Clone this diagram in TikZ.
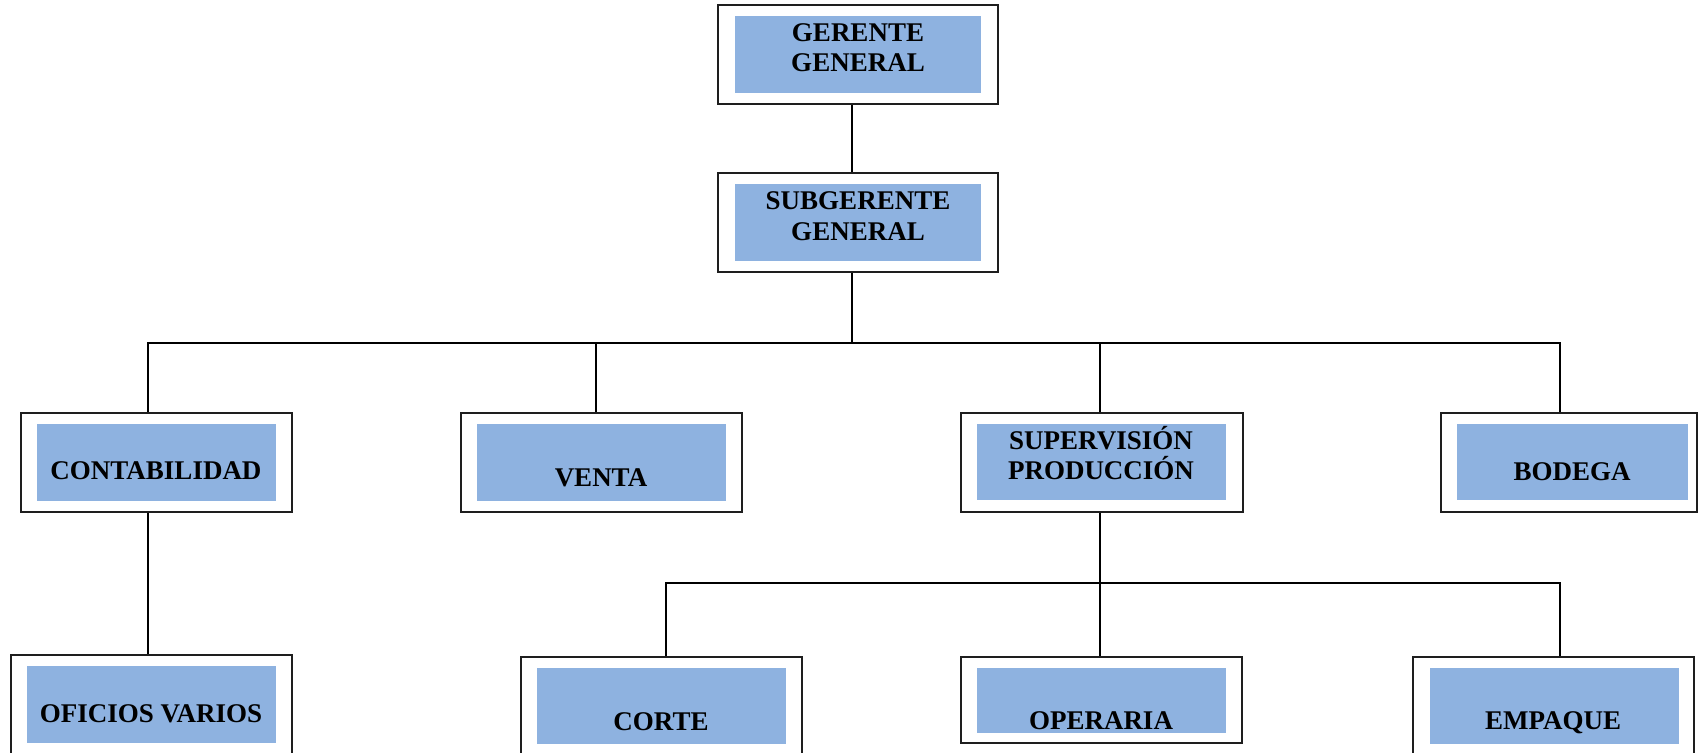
\documentclass[tikz,border=0pt]{standalone}
\usepackage{fontspec}
\setmainfont{Liberation Serif}
\definecolor{unitblue}{RGB}{142,178,224}
\definecolor{frame}{RGB}{30,30,30}
\tikzset{
  outerbox/.style={draw=frame, line width=0.7pt, fill=white, inner sep=0pt},
  bluebox/.style={fill=unitblue, inner sep=0pt},
  lbl/.style={font=\fontsize{13.5}{15.2}\selectfont\bfseries, align=center, inner sep=0pt},
  link/.style={line width=0.9pt, draw=black}
}
\begin{document}
\begin{tikzpicture}[x=0.5pt,y=-0.5pt]
\useasboundingbox (0,0) rectangle (1699,753);
\clip (0,0) rectangle (1699,753);

% top management
\node[outerbox, minimum width=140pt, minimum height=49.5pt] (ger) at (858,54.5) {};
\node[bluebox, minimum width=123pt, minimum height=38.5pt] (gerb) at (858,54.5) {};
\node[lbl] (gert) at (858,47.5) {GERENTE\\GENERAL};

\node[outerbox, minimum width=140pt, minimum height=49.5pt] (sub) at (858,222.5) {};
\node[bluebox, minimum width=123pt, minimum height=38.5pt] (subb) at (858,222.5) {};
\node[lbl] (subt) at (858,216) {SUBGERENTE\\GENERAL};

% departments
\node[outerbox, minimum width=135.5pt, minimum height=49.5pt] (cont) at (156.5,462.5) {};
\node[bluebox, minimum width=119.5pt, minimum height=38.5pt] (contb) at (156.5,463) {};
\node[lbl, anchor=base] (contt) at (156,480) {CONTABILIDAD};

\node[outerbox, minimum width=140.5pt, minimum height=49.5pt] (venta) at (601.5,462.5) {};
\node[bluebox, minimum width=124.5pt, minimum height=38.5pt] (ventab) at (601.5,462.5) {};
\node[lbl, anchor=base] (ventat) at (601,487) {VENTA};

\node[outerbox, minimum width=141pt, minimum height=49.5pt] (sup) at (1102,462.5) {};
\node[bluebox, minimum width=124.5pt, minimum height=38pt] (supb) at (1101.5,462) {};
\node[lbl] (supt) at (1101,453) {SUPERVISIÓN\\PRODUCCIÓN};

\node[outerbox, minimum width=128pt, minimum height=49.5pt] (bod) at (1569,462.5) {};
\node[bluebox, minimum width=115.5pt, minimum height=38pt] (bodb) at (1572.5,462) {};
\node[lbl, anchor=base] (bodt) at (1572,481) {BODEGA};

% sections
\node[outerbox, minimum width=140.5pt, minimum height=52.5pt] (ofi) at (151.5,707.5) {};
\node[bluebox, minimum width=124.5pt, minimum height=38.5pt] (ofib) at (151.5,704.5) {};
\node[lbl, anchor=base] (ofit) at (151,723) {OFICIOS VARIOS};

\node[outerbox, minimum width=140.5pt, minimum height=51.5pt] (corte) at (661.5,708.5) {};
\node[bluebox, minimum width=124.5pt, minimum height=38pt] (corteb) at (661.5,706) {};
\node[lbl, anchor=base] (cortet) at (661,730) {CORTE};

\node[outerbox, minimum width=140.5pt, minimum height=43pt] (oper) at (1101.5,700) {};
\node[bluebox, minimum width=124.5pt, minimum height=32.5pt] (operb) at (1101.5,700.5) {};
\node[lbl, anchor=base] (opert) at (1101,729) {OPERARIA};

\node[outerbox, minimum width=140.5pt, minimum height=51.5pt] (emp) at (1553.5,708.5) {};
\node[bluebox, minimum width=124.5pt, minimum height=38pt] (empb) at (1554.5,706) {};
\node[lbl, anchor=base] (empt) at (1553,729) {EMPAQUE};

% connectors
\coordinate (bus1) at (852,343);
\coordinate (bus2) at (1100,583);
\draw[link] ([shift={(-6,0)}]ger.south) -- ([shift={(-6,0)}]sub.north);
\draw[link] ([shift={(-6,0)}]sub.south) -- (bus1);
\draw[link] ([shift={(-8.5,0)}]cont.north) |- (bus1);
\draw[link] ([shift={(-5.5,0)}]venta.north) |- (bus1);
\draw[link] ([shift={(-2,0)}]sup.north) |- (bus1);
\draw[link] ([shift={(-9,0)}]bod.north) |- (bus1);
\draw[link] ([shift={(-8.5,0)}]cont.south) -- ([shift={(-3.5,0)}]ofi.north);
\draw[link] ([shift={(-2,0)}]sup.south) -- ([shift={(-1.5,0)}]oper.north);
\draw[link] ([shift={(4.5,0)}]corte.north) |- (bus2);
\draw[link] ([shift={(6.5,0)}]emp.north) |- (bus2);
\end{tikzpicture}
\end{document}
